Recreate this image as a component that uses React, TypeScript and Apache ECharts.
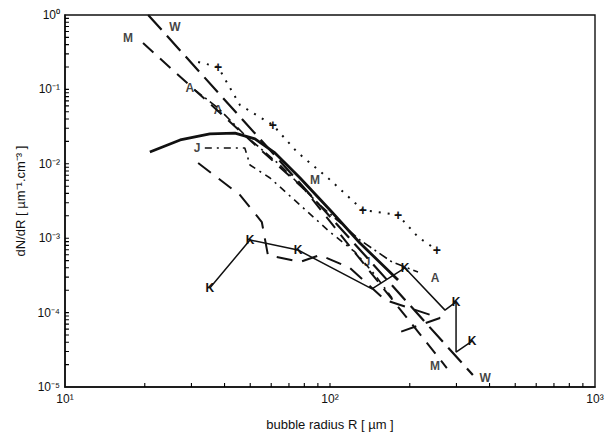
import React, { useEffect, useRef } from "react";
import * as echarts from "echarts";

// W curve
const W_R = [20.6, 346];
const W_N = [1.0, 1.45e-5];
// M curve
const M_R = [19.7, 80.5, 276];
const M_N = [0.42, 4.44e-3, 1.8e-5];
// solid thick curve
const S_R = [20.9, 27.2, 35.2, 43.8, 52.1, 62.0, 77.1, 100, 129.7, 180.6];
const S_N = [0.0144, 0.0209, 0.0252, 0.0259, 0.0216, 0.014, 6.44e-3, 2.39e-3, 8.62e-4, 2.74e-4];
// K curve
const K_R = [35.2, 49.9, 75.7, 144, 191.9, 271.6, 299, 299, 343.6];
const K_N = [2.14e-4, 9.46e-4, 6.94e-4, 2.08e-4, 3.98e-4, 1.08e-4, 1.39e-4, 2.95e-5, 4.15e-5];
const K_MARKED = [0, 1, 2, 4, 6, 8];
// + curve
const P_R = [31.8, 37.8, 45.7, 60.9, 75.1, 98.3, 133, 180.6, 214.8, 253];
const P_N = [0.234, 0.2, 0.0617, 0.0332, 0.0144, 6.44e-3, 2.39e-3, 2.05e-3, 1.04e-3, 6.94e-4];
const P_MARKED = [1, 3, 6, 7, 9];
// A curve
const A_R = [30.9, 37.8, 47.7, 64.7, 91.6, 129.7, 171.4, 214.8];
const A_N = [0.0982, 0.0562, 0.0244, 9.64e-3, 2.79e-3, 9.46e-4, 4.79e-4, 3.51e-4];
// J curve
const J_R = [33.7, 47.7, 49.9, 59.4, 77.1, 100, 124.2, 147.9, 171.4];
const J_N = [0.0163, 0.0163, 9.64e-3, 6.44e-3, 2.79e-3, 1.21e-3, 6.53e-4, 3.2e-4, 1.57e-4];
// T curve
const T_R = [31.8, 45.7, 55.3, 58.3, 77.1, 91.6, 119, 161.3, 260, 183.6];
const T_N = [0.01025, 3.81e-3, 1.65e-3, 5.94e-4, 4.79e-4, 5.94e-4, 3.98e-4, 1.48e-4, 8.46e-5, 5.48e-5];

// curve letters
const LABEL_TEXT = ["W", "W", "M", "M", "M", "A", "A", "A", "J", "J"];
const LABEL_R = [26.0, 385, 17.3, 87.7, 249, 29.6, 37.8, 249, 31.5, 137.9];
const LABEL_N = [0.69, 1.32e-5, 0.49, 6.05e-3, 1.91e-5, 0.104, 0.0529, 2.92e-4, 0.0163, 4.79e-4];

// minor tick positions (2..9 x each decade), listed
const X_TICKS = [20, 30, 40, 50, 60, 70, 80, 90, 100, 200, 300, 400, 500, 600, 700, 800, 900];
const Y_TICKS = [
  2e-5, 3e-5, 4e-5, 5e-5, 6e-5, 7e-5, 8e-5, 9e-5,
  1e-4, 2e-4, 3e-4, 4e-4, 5e-4, 6e-4, 7e-4, 8e-4, 9e-4,
  1e-3, 2e-3, 3e-3, 4e-3, 5e-3, 6e-3, 7e-3, 8e-3, 9e-3,
  1e-2, 2e-2, 3e-2, 4e-2, 5e-2, 6e-2, 7e-2, 8e-2, 9e-2,
  0.1, 0.2, 0.3, 0.4, 0.5, 0.6, 0.7, 0.8, 0.9,
];
const X_MIN = 10, X_MAX = 1000, Y_MIN = 1e-5, Y_MAX = 1;
// tick length expressed as a ratio along the log axis (~4 px)
const X_TICK_RATIO = 1.13;
const Y_TICK_RATIO = 1.035;

const SUP: Record<string, string> = {
  "-": "⁻", "0": "⁰", "1": "¹", "2": "²", "3": "³", "4": "⁴", "5": "⁵",
  "6": "⁶", "7": "⁷", "8": "⁸", "9": "⁹",
};
const pow10Label = (v: number) => {
  const e = String(Math.round(Math.log10(v)));
  return "10" + e.split("").map((c) => SUP[c] || c).join("");
};

const FONT = "'Liberation Sans', Arial, sans-serif";
const INK = "#111";

const zip = (r: number[], n: number[]) => r.map((x, i) => [x, n[i]]);

export default function App() {
  const ref = useRef<HTMLDivElement>(null);
  useEffect(() => {
    document.body.style.margin = "0";
    const chart = echarts.init(ref.current!, undefined, { renderer: "svg" });
    const markText = (text: string, size: number) => ({
      show: true,
      formatter: text,
      position: "inside" as const,
      color: INK,
      fontSize: size,
      fontFamily: FONT,
      fontWeight: "bold" as const,
    });
    const line = (name: string, r: number[], n: number[], width: number, type: any, extra: any = {}) => ({
      name,
      type: "line",
      data: zip(r, n),
      showSymbol: false,
      symbol: "none",
      lineStyle: { color: INK, width, type, cap: "butt" },
      z: 3,
      ...extra,
    });
    // short tick segments drawn as a broken line series (gaps between ticks)
    const xTickData: any[] = X_TICKS.flatMap((v) => [[v, Y_MIN], [v, Y_MIN * X_TICK_RATIO], [v, "-"]]);
    const yTickData: any[] = Y_TICKS.flatMap((v) => [[X_MIN, v], [X_MIN * Y_TICK_RATIO, v], ["-", v]]);
    const tickLine = (name: string, data: any[]) => ({
      name,
      type: "line",
      data,
      showSymbol: false,
      symbol: "none",
      connectNulls: false,
      silent: true,
      clip: false,
      z: 5,
      lineStyle: { color: "#000", width: 1.1, type: "solid" },
    });
    const option: any = {
      animation: false,
      backgroundColor: "#fff",
      grid: { left: 65, top: 15, right: 16, bottom: 50, show: true, borderColor: INK, borderWidth: 1.4, backgroundColor: "transparent" },
      xAxis: {
        type: "log",
        logBase: 10,
        min: X_MIN,
        max: X_MAX,
        name: "bubble radius R [ µm ]",
        nameLocation: "middle",
        nameGap: 31,
        nameTextStyle: { color: INK, fontSize: 13, fontFamily: FONT },
        axisLine: { show: true, lineStyle: { color: INK, width: 1.6 } },
        axisTick: { show: false },
        splitLine: { show: false },
        axisLabel: { formatter: pow10Label, color: INK, fontSize: 12, fontFamily: FONT, margin: 6 },
      },
      yAxis: {
        type: "log",
        logBase: 10,
        min: Y_MIN,
        max: Y_MAX,
        name: "dN/dR [ µm⁻¹.cm⁻³ ]",
        nameLocation: "middle",
        nameGap: 35,
        nameRotate: 90,
        nameTextStyle: { color: INK, fontSize: 13, fontFamily: FONT },
        axisLine: { show: true, lineStyle: { color: INK, width: 1.6 } },
        axisTick: { show: false },
        splitLine: { show: false },
        axisLabel: { formatter: pow10Label, color: INK, fontSize: 12, fontFamily: FONT, margin: 5 },
      },
      series: [
        line("W", W_R, W_N, 2.2, [20, 8]),
        line("M", M_R, M_N, 2, [14, 9]),
        line("solid", S_R, S_N, 2.8, "solid"),
        {
          ...line("K", K_R, K_N, 1.5, "solid"),
          showSymbol: true,
          symbol: "circle",
          symbolSize: 0.1,
          data: zip(K_R, K_N).map((v, i) => ({
            value: v,
            label: K_MARKED.includes(i) ? markText("K", 12) : { show: false },
          })),
        },
        {
          ...line("+", P_R, P_N, 2, [2, 7]),
          showSymbol: true,
          symbol: "circle",
          symbolSize: 0.1,
          data: zip(P_R, P_N).map((v, i) => ({
            value: v,
            label: P_MARKED.includes(i) ? markText("+", 14) : { show: false },
          })),
        },
        line("A", A_R, A_N, 1.6, [9, 4, 2, 4]),
        line("J", J_R, J_N, 1.6, [7, 5, 2, 5]),
        line("T", T_R, T_N, 2, [16, 10]),
        {
          name: "letters",
          type: "scatter",
          symbolSize: 0.1,
          itemStyle: { color: "transparent" },
          z: 4,
          data: LABEL_TEXT.map((t, i) => ({ value: [LABEL_R[i], LABEL_N[i]], label: markText(t, 12) })),
        },
        tickLine("xticks", xTickData),
        tickLine("yticks", yTickData),
      ],
    };
    chart.setOption(option);
    return () => chart.dispose();
  }, []);
  return <div ref={ref} style={{ width: 611, height: 437, background: "#fff" }} />;
}
